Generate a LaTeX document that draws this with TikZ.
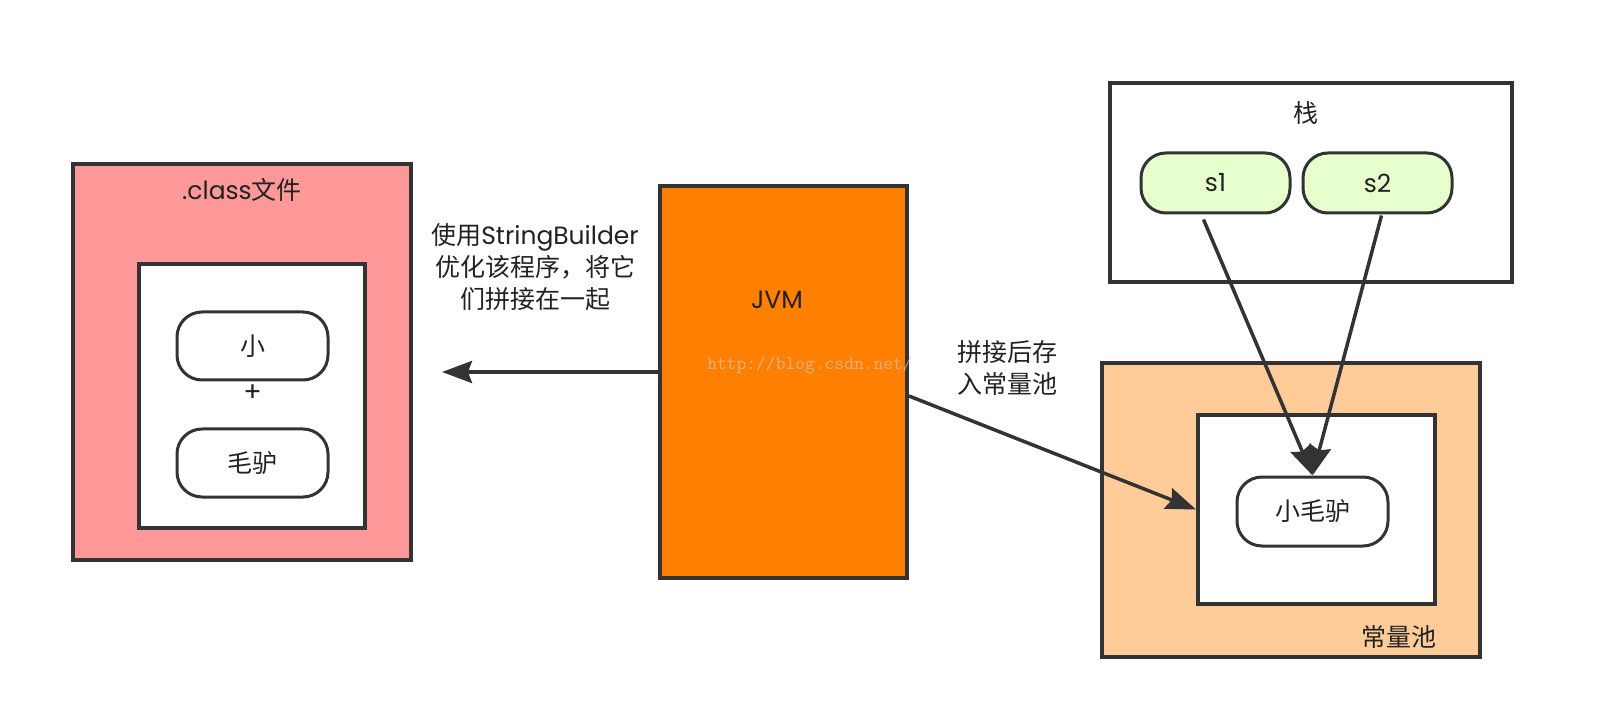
\documentclass[tikz,border=0pt]{standalone}
\usepackage{fontspec}
\setmainfont{Poppins}
\newfontfamily\cjk{Noto Sans CJK SC}
\usetikzlibrary{arrows.meta,shadows,calc}
\definecolor{ln}{HTML}{333333}
\definecolor{tx}{HTML}{222222}
\definecolor{pinkc}{HTML}{FF9999}
\definecolor{jvmc}{HTML}{FF8000}
\definecolor{peachc}{HTML}{FFCC99}
\definecolor{greenc}{HTML}{E6FFCC}
\begin{document}
\begin{tikzpicture}[x=1pt,y=-1pt,
  box/.style={draw=ln,line width=4pt,inner sep=0pt,
    drop shadow={shadow xshift=2pt,shadow yshift=-2pt,opacity=0.3}},
  pill/.style={draw=ln,line width=3pt,fill=white,rounded corners=25pt,inner sep=0pt,
    text=tx,font=\fontsize{25pt}{30pt}\selectfont},
  txt/.style={text=tx,inner sep=0pt,font=\fontsize{25pt}{32pt}\selectfont},
  arr/.style={draw=ln,line width=3.5pt,-{Stealth[length=30pt,width=22pt,inset=4pt]}}]
\fill[white] (0,0) rectangle (1604,708);
\useasboundingbox (0,0) rectangle (1604,708);

% .class file
\node[box,fill=pinkc,minimum width=338pt,minimum height=396pt] (cls) at (242,362) {};
\node[txt] (clst) at (242,190) {.class{\cjk 文件}};
\node[box,fill=white,minimum width=226pt,minimum height=264pt] (clsin) at (252,396) {};
\node[pill,minimum width=151pt,minimum height=68pt] (xiao) at (252.5,346) {{\cjk 小}};
\node[txt,font=\fontsize{27pt}{30pt}\selectfont] (plus) at (252.5,393) {+};
\node[pill,minimum width=151pt,minimum height=68pt] (maolv) at (252.5,463) {{\cjk 毛驴}};

% JVM
\node[box,fill=jvmc,minimum width=247pt,minimum height=392pt] (jvm) at (783.5,382) {};
\node[txt] (jvmt) at (777,300) {JVM};
\node[font=\ttfamily\fontsize{19pt}{19pt}\selectfont,text=black!18,text opacity=0.6,inner sep=0pt] (wm) at (810,365) {http://blog.csdn.net/};

\coordinate (la) at (442,372);
\draw[arr] (jvm.west |- la) -- (la);
\node[txt,align=center] (lbl1) at (535,267) {{\cjk 使用}StringBuilder\\{\cjk 优化该程序，将它}\\{\cjk 们拼接在一起}};

% constant pool
\node[box,fill=peachc,minimum width=378pt,minimum height=294pt] (pool) at (1291,510) {};
\node[box,fill=white,minimum width=237pt,minimum height=189pt] (poolin) at (1316.5,509.5) {};
\node[pill,minimum width=151pt,minimum height=69pt] (xmd) at (1312.5,511.5) {{\cjk 小毛驴}};
\node[txt] (poolt) at (1399,637) {{\cjk 常量池}};

% stack
\node[box,fill=white,minimum width=402pt,minimum height=199pt] (stack) at (1311,182.5) {};
\node[txt] (stackt) at (1306,113) {{\cjk 栈}};
\node[pill,fill=greenc,minimum width=149pt,minimum height=60pt] (s1) at (1215.5,183) {s1};
\node[pill,fill=greenc,minimum width=149pt,minimum height=60pt] (s2) at (1377.5,183) {s2};

% arrows
\draw[arr] ($(jvm.east)+(0,14)$) -- (poolin.west);
\node[txt,align=center] (lbl2) at (1007,368) {{\cjk 拼接后存}\\{\cjk 入常量池}};
\draw[arr] ($(s1.south)+(-12,5)$) -- (xmd.north);
\draw[arr] ($(s2.south)+(4,1)$) -- (xmd.north);
\end{tikzpicture}
\end{document}
